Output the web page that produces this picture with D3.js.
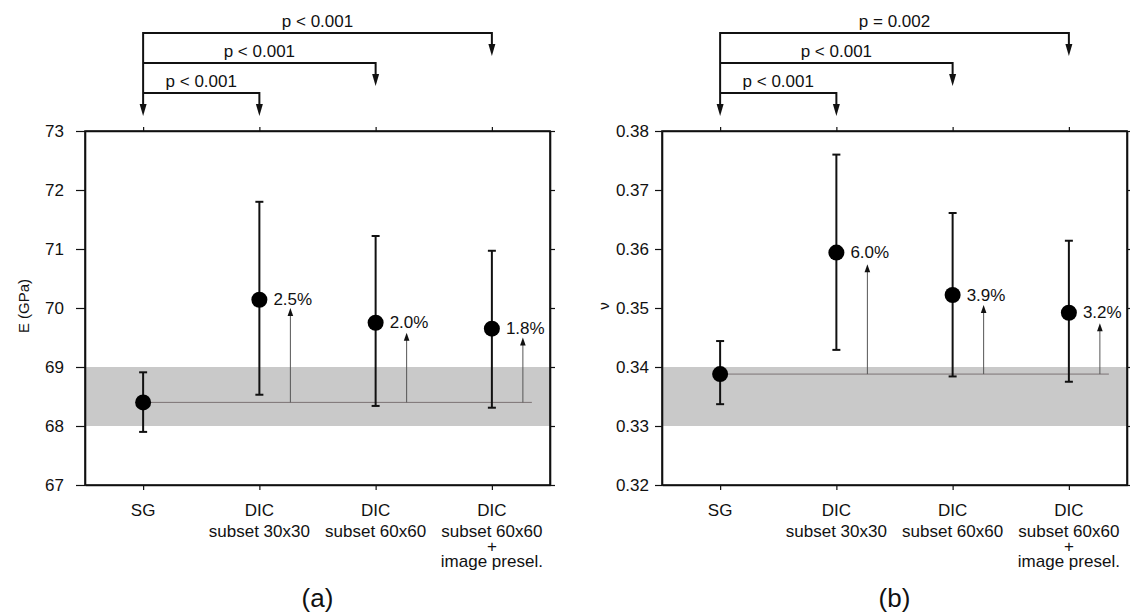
<!DOCTYPE html>
<meta charset="utf-8">
<script src="https://d3js.org/d3.v7.min.js"></script>
<style>
  body { margin: 0; background: #fff; }
  svg text { font-family: "Liberation Sans", Arial, sans-serif; fill: #111; }
</style>
<div id="chart"></div>
<script>

// categories on the x axis (one key each, label lines separate)
var catKeys = ["SG", "DIC30", "DIC60", "DIC60sel"];
var catLabels = [["SG"], ["DIC", "subset 30x30"], ["DIC", "subset 60x60"], ["DIC", "subset 60x60", "+", "image presel."]];

// (a) Young's modulus, GPa
var eTicks = [67, 68, 69, 70, 71, 72, 73];
var eMean  = [68.40, 70.14, 69.75, 69.65];
var eUpper = [68.91, 71.80, 71.22, 70.97];
var eLower = [67.90, 68.53, 68.34, 68.31];
var eBand  = [68, 69];
var eArrowTop = [70.0, 69.58, 69.5];
var ePct   = ["2.5%", "2.0%", "1.8%"];
var eP     = ["p < 0.001", "p < 0.001", "p < 0.001"];

// (b) Poisson's ratio
var nuTicks = [0.32, 0.33, 0.34, 0.35, 0.36, 0.37, 0.38];
var nuMean  = [0.3388, 0.3594, 0.3522, 0.3492];
var nuUpper = [0.3444, 0.3760, 0.3661, 0.3614];
var nuLower = [0.3337, 0.3429, 0.3384, 0.3375];
var nuBand  = [0.33, 0.34];
var nuArrowTop = [0.3574, 0.3505, 0.3474];
var nuPct   = ["6.0%", "3.9%", "3.2%"];
var nuP     = ["p < 0.001", "p < 0.001", "p = 0.002"];

var svg = d3.select("#chart").append("svg")
    .attr("width", 1130)
    .attr("height", 615);

var plotW = 465, plotTop = 131, plotBottom = 485, fs = "17px";

function drawPanel(o) {
  var x = d3.scalePoint().domain(catKeys).range([o.left, o.left + plotW]).padding(0.5);
  var y = d3.scaleLinear().domain([o.ticks[0], o.ticks[o.ticks.length - 1]]).range([plotBottom, plotTop]);
  var g = svg.append("g");

  // grey band
  g.append("rect")
    .attr("x", o.left).attr("width", plotW)
    .attr("y", y(o.band[1])).attr("height", y(o.band[0]) - y(o.band[1]))
    .attr("fill", "#c9c9c9");

  // reference line at SG mean
  var ref = o.mean[0];
  g.append("line")
    .attr("x1", x(catKeys[0])).attr("x2", x(catKeys[3]) + 40)
    .attr("y1", y(ref)).attr("y2", y(ref))
    .attr("stroke", "#7d7475").attr("stroke-width", 1);

  // increase arrows
  var inc = catKeys.slice(1);
  inc.forEach(function(k, i) {
    var ax = x(k) + 31, ay = y(o.arrowTop[i]);
    g.append("line")
      .attr("x1", ax).attr("x2", ax)
      .attr("y1", y(ref)).attr("y2", ay + 7)
      .attr("stroke", "#555").attr("stroke-width", 1);
    g.append("path")
      .attr("d", "M" + ax + "," + ay + "L" + (ax - 2.8) + "," + (ay + 8) + "L" + (ax + 2.8) + "," + (ay + 8) + "Z")
      .attr("fill", "#111");
    g.append("text")
      .attr("x", x(k) + 14).attr("y", y(o.mean[i + 1]))
      .attr("dominant-baseline", "central")
      .style("font-size", fs)
      .text(o.pct[i]);
  });

  // error bars
  catKeys.forEach(function(k, i) {
    var cx = x(k);
    g.append("line")
      .attr("x1", cx).attr("x2", cx)
      .attr("y1", y(o.upper[i])).attr("y2", y(o.lower[i]))
      .attr("stroke", "#111").attr("stroke-width", 2);
    [o.upper[i], o.lower[i]].forEach(function(v) {
      g.append("line")
        .attr("x1", cx - 4).attr("x2", cx + 4)
        .attr("y1", y(v)).attr("y2", y(v))
        .attr("stroke", "#111").attr("stroke-width", 2);
    });
  });

  // mean dots
  g.selectAll("circle.dot")
    .data(o.mean)
    .enter().append("circle")
      .attr("class", "dot")
      .attr("cx", function(d, i) { return x(catKeys[i]); })
      .attr("cy", function(d) { return y(d); })
      .attr("r", 8)
      .attr("fill", "#000");

  // axes (frame)
  var ax = function(sel) {
    sel.selectAll(".domain").attr("stroke", "#111").attr("stroke-width", 1.6);
    sel.selectAll(".tick line").attr("stroke", "#111").attr("stroke-width", 1.2);
    sel.selectAll("text").style("font-size", fs).attr("fill", "#111")
      .style("font-family", '"Liberation Sans", Arial, sans-serif');
  };
  g.append("g").attr("transform", "translate(" + o.left + ",0)")
    .call(d3.axisLeft(y).tickValues(o.ticks).tickSize(o.tickL).tickPadding(o.padL).tickSizeOuter(0)
      .tickFormat(o.fmt))
    .call(ax);
  g.append("g").attr("transform", "translate(" + (o.left + plotW) + ",0)")
    .call(d3.axisRight(y).tickValues(o.ticks).tickSize(5).tickSizeOuter(0).tickFormat(""))
    .call(ax);
  g.append("g").attr("transform", "translate(0," + plotTop + ")")
    .call(d3.axisTop(x).tickSize(4).tickSizeOuter(0).tickFormat(""))
    .call(ax);
  g.append("g").attr("transform", "translate(0," + plotBottom + ")")
    .call(d3.axisBottom(x).tickSize(5).tickSizeOuter(0).tickFormat(""))
    .call(ax);
  // close the corners of the frame
  g.append("rect")
    .attr("x", o.left).attr("y", plotTop).attr("width", plotW).attr("height", plotBottom - plotTop)
    .attr("fill", "none").attr("stroke", "#111").attr("stroke-width", 1.6);

  // category labels
  catLabels.forEach(function(lines, i) {
    var t = g.append("text")
      .attr("text-anchor", "middle")
      .style("font-size", fs);
    lines.forEach(function(s, j) {
      t.append("tspan")
        .attr("x", x(catKeys[i]))
        .attr("y", j === 0 ? 516 : 537 + (j - 1) * 15)
        .text(s);
    });
  });

  // y label
  g.append("text")
    .attr("transform", "translate(" + o.ylabX + ",306) rotate(-90)")
    .attr("text-anchor", "middle")
    .attr("dominant-baseline", "central")
    .style("font-size", "15px")
    .text(o.ylab);

  // panel letter
  g.append("text")
    .attr("x", o.left + plotW / 2).attr("y", 598)
    .attr("text-anchor", "middle")
    .attr("dominant-baseline", "central")
    .style("font-size", "26px")
    .text(o.letter);

  // significance brackets
  var levels = [93, 63, 33];
  var x0 = x(catKeys[0]);
  g.append("line")
    .attr("x1", x0).attr("x2", x0).attr("y1", levels[2] - 1).attr("y2", 105)
    .attr("stroke", "#111").attr("stroke-width", 2);
  g.append("path")
    .attr("d", "M" + x0 + ",116L" + (x0 - 3.5) + ",104L" + (x0 + 3.5) + ",104Z")
    .attr("fill", "#111");
  inc.forEach(function(k, i) {
    var lx = x(k), ly = levels[i], tip = ly + 23;
    g.append("path")
      .attr("d", "M" + x0 + "," + ly + "H" + lx + "V" + (tip - 10))
      .attr("fill", "none").attr("stroke", "#111").attr("stroke-width", 2);
    g.append("path")
      .attr("d", "M" + lx + "," + tip + "L" + (lx - 3.5) + "," + (tip - 12) + "L" + (lx + 3.5) + "," + (tip - 12) + "Z")
      .attr("fill", "#111");
    g.append("text")
      .attr("x", (x0 + lx) / 2).attr("y", ly - 6)
      .attr("text-anchor", "middle")
      .style("font-size", fs)
      .text(o.p[i]);
  });
}

drawPanel({
  left: 85, ticks: eTicks, mean: eMean, upper: eUpper, lower: eLower, band: eBand,
  arrowTop: eArrowTop, pct: ePct, p: eP, fmt: d3.format("d"),
  tickL: 9, padL: 12, ylab: "E (GPa)", ylabX: 23, letter: "(a)"
});
drawPanel({
  left: 662, ticks: nuTicks, mean: nuMean, upper: nuUpper, lower: nuLower, band: nuBand,
  arrowTop: nuArrowTop, pct: nuPct, p: nuP, fmt: d3.format(".2f"),
  tickL: 7, padL: 6, ylab: "ν", ylabX: 603, letter: "(b)"
});

</script>
